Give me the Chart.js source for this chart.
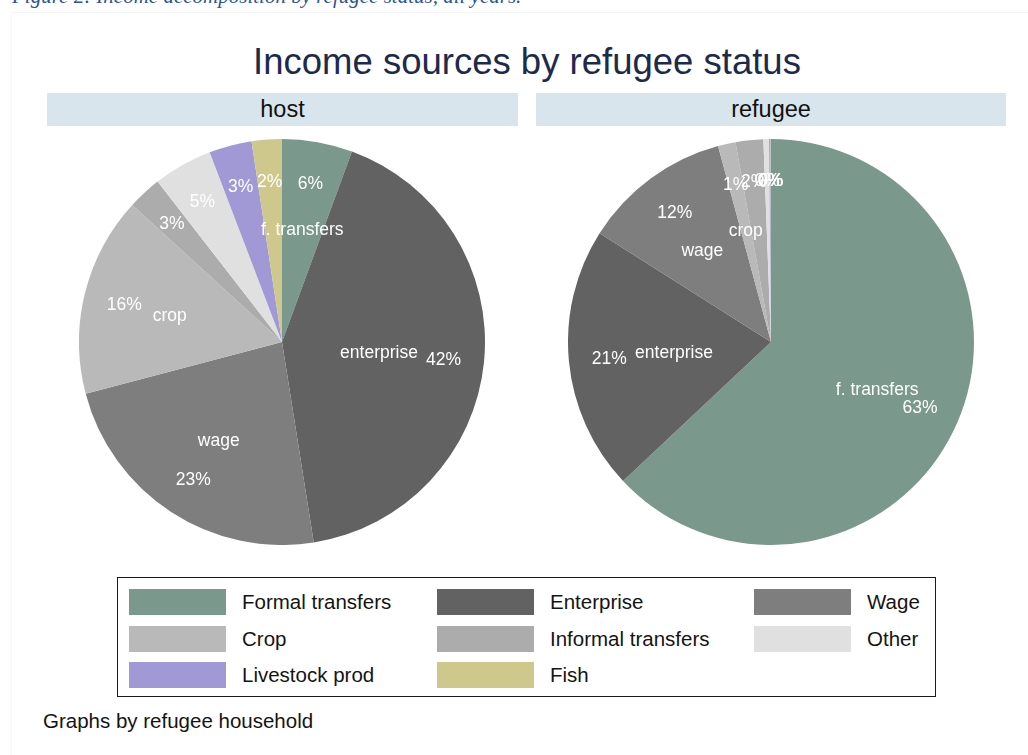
<!DOCTYPE html>
<html>
<head>
<meta charset="utf-8">
<script src="https://cdn.jsdelivr.net/npm/chart.js@4/dist/chart.umd.min.js"></script>
<style>
  html, body { margin: 0; padding: 0; background: #ffffff; }
  body { width: 1028px; height: 755px; position: relative; overflow: hidden;
         font-family: "Liberation Sans", Arial, sans-serif; }
  .caption { position: absolute; left: 12px; top: -14px; white-space: nowrap;
             font-family: "Liberation Serif", "DejaVu Serif", serif; font-style: italic;
             font-size: 21px; line-height: 21px; color: #2E5496; }
  .frame { position: absolute; left: 11px; top: 12px; width: 1100px; height: 900px;
           border-top: 1px solid #f5f5f5; border-left: 1px solid #f7f7f7; }
  .title { position: absolute; left: 0; width: 1054px; top: 40px; text-align: center;
           font-size: 36.5px; line-height: 44px; color: #1C2A4C; white-space: nowrap; }
  .strip { position: absolute; top: 93px; height: 33px; background: #D9E5EC;
           text-align: center; font-size: 23.5px; line-height: 33px; color: #111; }
  canvas.pie { position: absolute; }
  .legend { position: absolute; left: 117px; top: 577px; width: 817px; height: 118px;
            border: 1px solid #1a1a1a; }
  .item { position: absolute; height: 26px; }
  .sw { position: absolute; left: 0; top: 0; width: 97px; height: 26px; }
  .lt { position: absolute; left: 113px; top: 0; line-height: 26px; font-size: 20.5px;
        color: #141414; white-space: nowrap; }
  .note { position: absolute; left: 43px; top: 709px; font-size: 20.5px; line-height: 24px;
          color: #141414; white-space: nowrap; }
</style>
</head>
<body>
<div class="frame"></div>
<div class="caption">Figure 2: Income decomposition by refugee status, all years.</div>
<div class="title">Income sources by refugee status</div>
<div class="strip" id="strip0" style="left:47px;width:471px;"></div>
<div class="strip" id="strip1" style="left:536px;width:470px;"></div>
<canvas class="pie" id="pie0" width="406" height="406" style="left:79px;top:139px;"></canvas>
<canvas class="pie" id="pie1" width="406" height="406" style="left:568px;top:139px;"></canvas>
<div class="legend" id="legend"></div>
<div class="note">Graphs by refugee household</div>

<script>
// Income sources, in the order the slices run clockwise from 12 o'clock
const categories = ['Formal transfers', 'Enterprise', 'Wage', 'Crop',
                    'Informal transfers', 'Other', 'Livestock prod', 'Fish'];
// Short names printed inside the larger slices
const sliceNames = ['f. transfers', 'enterprise', 'wage', 'crop', '', '', '', ''];
// Share of household income (%), by refugee household status
const panelLabels = ['host', 'refugee'];
const hostShares    = [5.6, 41.9, 23.4, 15.9, 2.7, 4.7, 3.4, 2.4];
const refugeeShares = [63.0, 21.0, 11.8, 1.4, 2.2, 0.45, 0.12, 0.03];

const sliceColors = ['#7B988C', '#626262', '#7E7E7E', '#B9B9B9',
                     '#ACACAC', '#E0E0E0', '#A099D6', '#CFC88C'];

// Radial position of the in-slice texts, as a fraction of the pie radius
const pctRadius = 0.80;
const nameRadius = { 'enterprise': 0.48 };
const defaultNameRadius = 0.57;
const textDrop = 2;

const sliceText = {
  id: 'sliceText',
  afterDatasetsDraw(chart) {
    const ctx = chart.ctx;
    const meta = chart.getDatasetMeta(0);
    const values = chart.data.datasets[0].data;
    ctx.save();
    ctx.fillStyle = '#ffffff';
    ctx.font = '17.5px "Liberation Sans", Arial, sans-serif';
    ctx.textAlign = 'center';
    ctx.textBaseline = 'middle';
    meta.data.forEach((arc, i) => {
      const p = arc.getProps(['x', 'y', 'startAngle', 'endAngle', 'outerRadius'], true);
      const mid = (p.startAngle + p.endAngle) / 2;
      const r = p.outerRadius;
      const pct = Math.round(values[i]) + '%';
      ctx.fillText(pct, p.x + Math.cos(mid) * r * pctRadius,
                   p.y + Math.sin(mid) * r * pctRadius + textDrop);
      const name = sliceNames[i];
      if (name) {
        const f = nameRadius[name] || defaultNameRadius;
        ctx.fillText(name, p.x + Math.cos(mid) * r * f, p.y + Math.sin(mid) * r * f + textDrop);
      }
    });
    ctx.restore();
  }
};

function drawPie(canvasId, shares) {
  new Chart(document.getElementById(canvasId), {
    type: 'pie',
    data: {
      labels: categories,
      datasets: [{ data: shares, backgroundColor: sliceColors, borderWidth: 0 }]
    },
    options: {
      responsive: false,
      animation: false,
      layout: { padding: 0 },
      plugins: { legend: { display: false }, tooltip: { enabled: false } }
    },
    plugins: [sliceText]
  });
}

[hostShares, refugeeShares].forEach((s, k) => {
  document.getElementById('strip' + k).textContent = panelLabels[k];
  drawPie('pie' + k, s);
});

// Legend: three columns, filled row by row
const legend = document.getElementById('legend');
const colX = [11, 319, 636];
const rowY = [11, 47.5, 84];
categories.forEach((name, i) => {
  const item = document.createElement('div');
  item.className = 'item';
  item.style.left = colX[i % 3] + 'px';
  item.style.top = rowY[Math.floor(i / 3)] + 'px';
  const sw = document.createElement('div');
  sw.className = 'sw';
  sw.style.background = sliceColors[i];
  const lt = document.createElement('div');
  lt.className = 'lt';
  lt.textContent = name;
  item.appendChild(sw);
  item.appendChild(lt);
  legend.appendChild(item);
});
</script>
</body>
</html>
